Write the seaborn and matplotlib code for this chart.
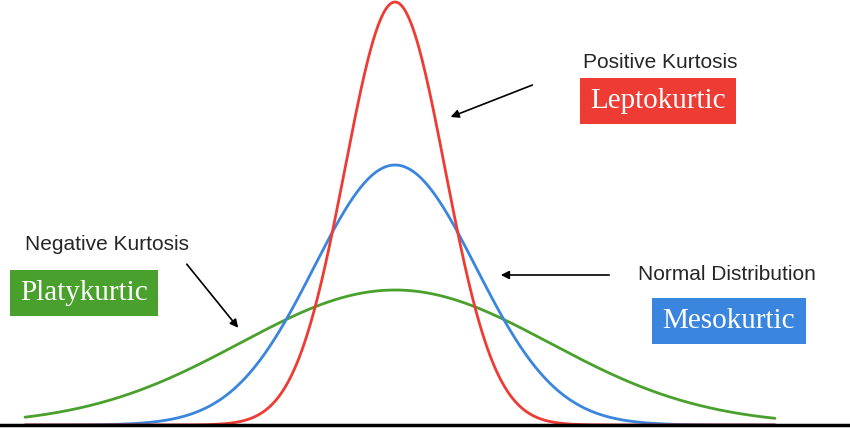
import numpy as np
import pandas as pd
import matplotlib
matplotlib.use("Agg")
import matplotlib.pyplot as plt
import seaborn as sns

# curve parameters (pixel units)
curve_names = ["Platykurtic", "Mesokurtic", "Leptokurtic"]
curve_peaks = [135, 260, 423]      # peak height above baseline
curve_spreads = [155, 81, 50]      # standard deviation
curve_colors = ["#4aa02c", "#3a85dd", "#ee3b33"]
center = 395
x_range = (25, 775)
baseline = 4

rows = []
xs = np.linspace(x_range[0], x_range[1], 600)
for name, peak, sd in zip(curve_names, curve_peaks, curve_spreads):
    ys = baseline + peak * np.exp(-0.5 * ((xs - center) / sd) ** 2)
    rows.append(pd.DataFrame({"x": xs, "y": ys, "curve": name}))
df = pd.concat(rows)

sns.set_style("white")
fig = plt.figure(figsize=(8.5, 4.29), dpi=100)
ax = fig.add_axes([0, 0, 1, 1])
sns.lineplot(data=df, x="x", y="y", hue="curve", palette=dict(zip(curve_names, curve_colors)),
             linewidth=2, legend=False, ax=ax, sort=False)
ax.axhline(baseline, color="black", linewidth=2.5)
ax.set_xlim(0, 850)
ax.set_ylim(0, 429)
ax.axis("off")

H = 429
def label(x, y, s):
    ax.text(x, H - y, s, fontsize=15, family="Liberation Sans", va="center", ha="center")

def box(x, y, s, color):
    ax.text(x, H - y, s, fontsize=21, family="Liberation Serif", color="white", va="center", ha="center",
            bbox=dict(boxstyle="square,pad=0.35", fc=color, ec="none"))

label(660, 62, "Positive Kurtosis")
box(658, 101, "Leptokurtic", curve_colors[2])
label(727, 275, "Normal Distribution")
box(729, 321, "Mesokurtic", curve_colors[1])
label(107, 244, "Negative Kurtosis")
box(84, 293, "Platykurtic", curve_colors[0])

arrow = dict(arrowstyle="-|>", color="black", lw=1.2, mutation_scale=12)
ax.annotate("", xy=(448, H - 118), xytext=(535, H - 84), arrowprops=arrow)
ax.annotate("", xy=(498, H - 275), xytext=(612, H - 275), arrowprops=arrow)
ax.annotate("", xy=(240, H - 330), xytext=(185, H - 262), arrowprops=arrow)

fig.savefig("out.png", dpi=100)
